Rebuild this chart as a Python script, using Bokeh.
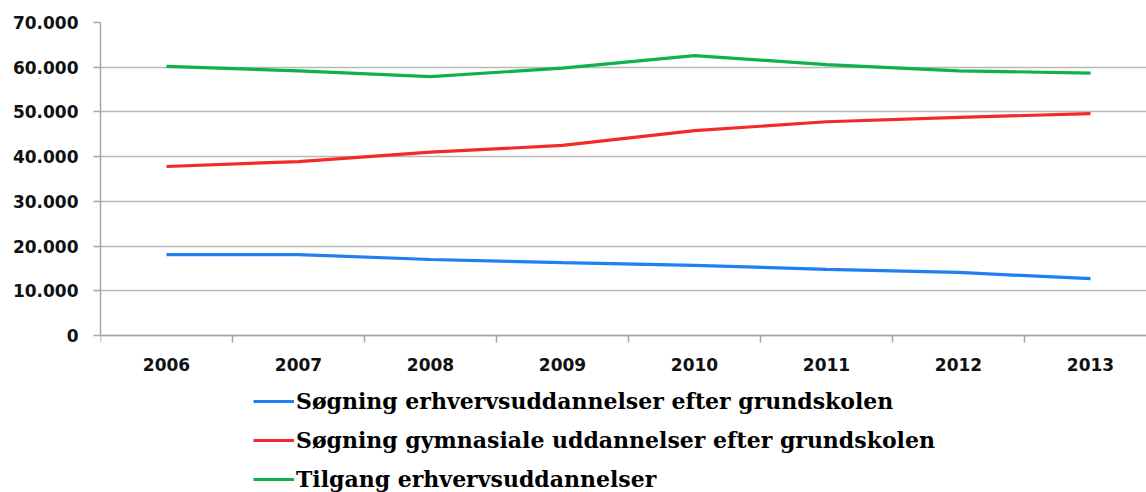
from bokeh.plotting import figure
from bokeh.models import Range1d, FixedTicker, Legend, LegendItem
from bokeh.embed import file_html
from bokeh.resources import INLINE

years = ["2006", "2007", "2008", "2009", "2010", "2011", "2012", "2013"]
soegning_erhverv = [18100, 18100, 17000, 16300, 15700, 14800, 14100, 12700]
soegning_gym = [37800, 38900, 41000, 42500, 45800, 47800, 48800, 49600]
tilgang_erhverv = [60200, 59200, 57900, 59800, 62600, 60600, 59200, 58700]
labels = ["Søgning erhvervsuddannelser efter grundskolen",
          "Søgning gymnasiale uddannelser efter grundskolen",
          "Tilgang erhvervsuddannelser"]
colors = ["#1f80f2", "#f42a2a", "#10b04c"]
y_ticks = [0, 10000, 20000, 30000, 40000, 50000, 60000, 70000]

xs = list(range(len(years)))
y_top = y_ticks[-1]
y_bottom = -157 * y_top / 313  # room below zero for the category labels and legend

p = figure(width=1146, height=492, output_backend="svg", toolbar_location=None,
           x_range=Range1d(-0.5, 7.424), y_range=Range1d(y_bottom, y_top),
           min_border_left=100, min_border_right=0, min_border_top=22, min_border_bottom=0)
p.outline_line_color = None
p.background_fill_color = "white"

renderers = []
for vals, col in zip([soegning_erhverv, soegning_gym, tilgang_erhverv], colors):
    r = p.line(xs, vals, line_color=col, line_width=3.2)
    renderers.append(r)

# axes
p.xaxis.fixed_location = 0
p.xaxis.ticker = FixedTicker(ticks=xs, minor_ticks=[i - 0.5 for i in range(len(years) + 1)])
p.xaxis.major_label_overrides = {i: y for i, y in enumerate(years)}
p.xaxis.major_tick_out = 0
p.xaxis.major_tick_in = 0
p.xaxis.minor_tick_out = 7
p.xaxis.minor_tick_in = 0
p.xaxis.minor_tick_line_color = "#a6a6a6"
p.xaxis.minor_tick_line_width = 1.5
p.xaxis.axis_line_color = "#a6a6a6"
p.xaxis.axis_line_width = 1.5
p.xaxis.major_label_standoff = 15

p.yaxis.bounds = (0, y_top)
p.yaxis.ticker = FixedTicker(ticks=y_ticks)
p.yaxis.major_label_overrides = {v: (f"{v:,}".replace(",", ".")) for v in y_ticks}
p.yaxis.major_tick_out = 7
p.yaxis.major_tick_in = 0
p.yaxis.minor_tick_out = 0
p.yaxis.minor_tick_in = 0
p.yaxis.major_tick_line_color = "#a6a6a6"
p.yaxis.major_tick_line_width = 1.5
p.yaxis.axis_line_color = "#a6a6a6"
p.yaxis.axis_line_width = 1.5
p.yaxis.major_label_standoff = 15

for ax in (p.xaxis, p.yaxis):
    ax.major_label_text_font = "DejaVu Sans"
    ax.major_label_text_font_style = "bold"
    ax.major_label_text_font_size = "17px"
    ax.major_label_text_color = "#111111"

p.xgrid.grid_line_color = None
p.ygrid.grid_line_color = "#b8b8b8"
p.ygrid.grid_line_width = 1.5

legend = Legend(items=[LegendItem(label=l, renderers=[r]) for l, r in zip(labels, renderers)],
                location=(153, 0), orientation="vertical",
                label_text_font="DejaVu Serif", label_text_font_style="bold",
                label_text_font_size="22px", label_text_color="black",
                glyph_width=41, glyph_height=20, label_height=20,
                label_standoff=2, spacing=13, padding=2, margin=0,
                border_line_color=None, background_fill_alpha=0)
p.add_layout(legend, "center")

open("out.html", "w").write(file_html(p, INLINE))
